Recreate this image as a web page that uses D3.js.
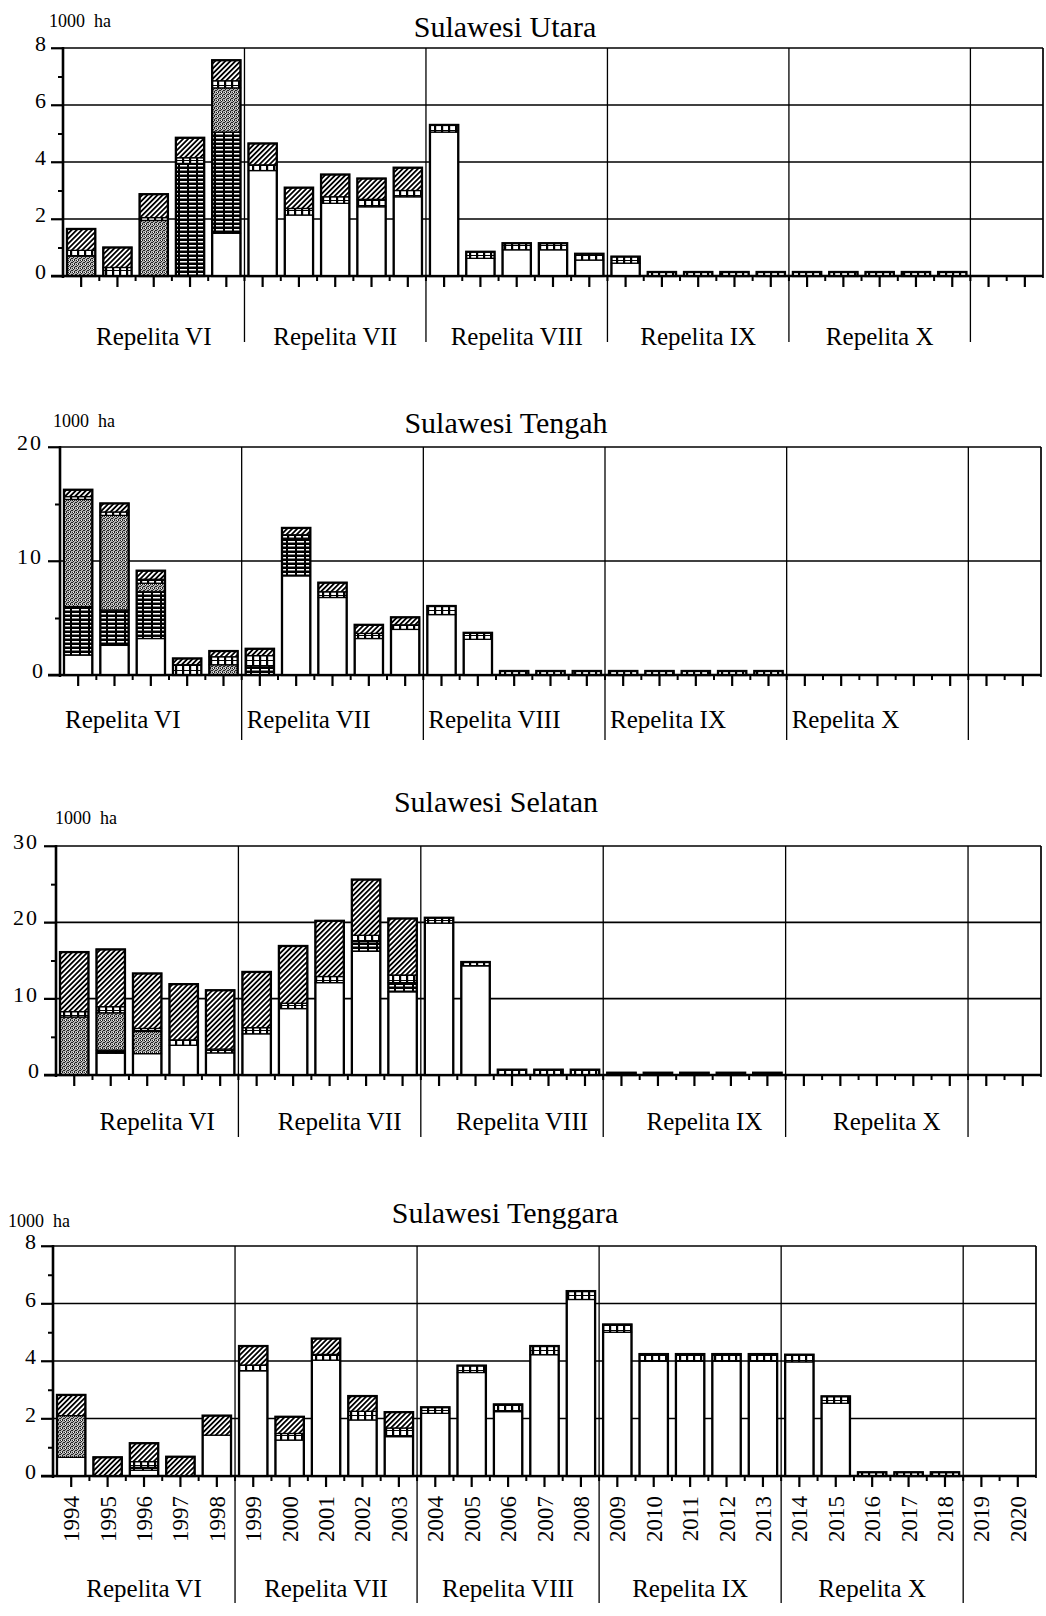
<!DOCTYPE html>
<html lang="en">
<head>
<meta charset="utf-8">
<script src="https://d3js.org/d3.v7.min.js"></script>
<style>
body { margin: 0; background: #fff; }
text { font-family: "Liberation Serif", "Times New Roman", serif; fill: #000; }
</style>
</head>
<body>
<script>
var years = ["1994","1995","1996","1997","1998","1999","2000","2001","2002","2003",
             "2004","2005","2006","2007","2008","2009","2010","2011","2012","2013",
             "2014","2015","2016","2017","2018","2019","2020"];
var repelita = ["Repelita VI", "Repelita VII", "Repelita VIII", "Repelita IX", "Repelita X"];
var keys = ["plain", "lined", "stipple", "dotted", "hatched"];

// Sulawesi Utara (1000 ha)
var utaraPlain   = [0,0,0,0,1.5, 3.7,2.14,2.55,2.43,2.78, 5.05,0.62,0.92,0.92,0.56, 0.45,0,0,0,0, 0,0,0,0,0, 0,0];
var utaraLined   = [0,0,0,3.95,3.55, 0,0,0,0,0, 0,0,0,0,0, 0,0,0,0,0, 0,0,0,0,0, 0,0];
var utaraStipple = [0.7,0,1.95,0,1.55, 0,0,0,0,0, 0,0,0,0,0, 0,0,0,0,0, 0,0,0,0,0, 0,0];
var utaraDotted  = [0.2,0.3,0.1,0.2,0.25, 0.2,0.23,0.23,0.26,0.22, 0.25,0.23,0.23,0.23,0.22, 0.23,0.14,0.14,0.14,0.14, 0.14,0.14,0.14,0.14,0.14, 0,0];
var utaraHatched = [0.75,0.7,0.82,0.7,0.72, 0.75,0.73,0.78,0.73,0.8, 0,0,0,0,0, 0,0,0,0,0, 0,0,0,0,0, 0,0];

// Sulawesi Tengah
var tengahPlain   = [1.75,2.6,3.2,0,0, 0,8.7,6.8,3.2,4.0, 5.3,3.13,0,0,0, 0,0,0,0,0, 0,0,0,0,0, 0,0];
var tengahLined   = [4.25,3.1,4.1,0,0, 0.8,3.3,0,0,0, 0,0,0,0,0, 0,0,0,0,0, 0,0,0,0,0, 0,0];
var tengahStipple = [9.4,8.3,0.75,0,0.9, 0,0,0,0,0, 0,0,0,0,0, 0,0,0,0,0, 0,0,0,0,0, 0,0];
var tengahDotted  = [0.25,0.3,0.35,0.9,0.7, 0.9,0.3,0.5,0.45,0.4, 0.75,0.57,0.35,0.35,0.35, 0.35,0.35,0.35,0.35,0.35, 0,0,0,0,0, 0,0];
var tengahHatched = [0.6,0.75,0.75,0.55,0.5, 0.6,0.6,0.8,0.75,0.66, 0,0,0,0,0, 0,0,0,0,0, 0,0,0,0,0, 0,0];

// Sulawesi Selatan
var selatanPlain   = [0,2.85,2.8,3.9,2.9, 5.4,8.7,12.1,16.2,10.9, 19.9,14.3,0,0,0, 0,0,0,0,0, 0,0,0,0,0, 0,0];
var selatanLined   = [0,0.4,0,0,0, 0,0,0,1.3,1.2, 0,0,0,0,0, 0,0,0,0,0, 0,0,0,0,0, 0,0];
var selatanStipple = [7.6,4.9,2.9,0,0, 0,0,0,0,0, 0,0,0,0,0, 0,0,0,0,0, 0,0,0,0,0, 0,0];
var selatanDotted  = [0.7,0.8,0.4,0.7,0.5, 0.8,0.7,0.8,0.8,1.0, 0.7,0.5,0.7,0.7,0.7, 0.3,0.3,0.3,0.3,0.3, 0,0,0,0,0, 0,0];
var selatanHatched = [7.8,7.5,7.2,7.3,7.7, 7.3,7.5,7.3,7.3,7.4, 0,0,0,0,0, 0,0,0,0,0, 0,0,0,0,0, 0,0];

// Sulawesi Tenggara
var tenggaraPlain   = [0.65,0,0.2,0,1.42, 3.66,1.25,4.03,1.95,1.37, 2.18,3.6,2.24,4.22,6.14, 5.0,3.99,3.99,3.99,3.99, 3.97,2.53,0,0,0, 0,0];
var tenggaraLined   = [0,0,0.1,0,0, 0,0,0,0,0, 0,0,0,0,0, 0,0,0,0,0, 0,0,0,0,0, 0,0];
var tenggaraStipple = [1.45,0,0,0,0, 0,0,0,0,0, 0,0,0,0,0, 0,0,0,0,0, 0,0,0,0,0, 0,0];
var tenggaraDotted  = [0,0,0.2,0,0, 0.2,0.23,0.2,0.3,0.3, 0.21,0.24,0.25,0.3,0.29, 0.27,0.25,0.25,0.25,0.25, 0.25,0.24,0.13,0.13,0.13, 0,0];
var tenggaraHatched = [0.72,0.65,0.64,0.67,0.68, 0.66,0.58,0.55,0.53,0.55, 0,0,0,0,0, 0,0,0,0,0, 0,0,0,0,0, 0,0];

var panels = [
  {title: "Sulawesi Utara", series: [utaraPlain, utaraLined, utaraStipple, utaraDotted, utaraHatched],
   max: 8, major: 2, minor: 1, left: 63, right: 1043, top: 48, bottom: 276,
   titleX: 505, titleY: 37, unitX: 49, unitY: 27, labelY: 345, lineEnd: 342, align: "middle", shift: 0, yearLabels: false},
  {title: "Sulawesi Tengah", series: [tengahPlain, tengahLined, tengahStipple, tengahDotted, tengahHatched],
   max: 20, major: 10, minor: 5, left: 60, right: 1041, top: 447, bottom: 675,
   titleX: 506, titleY: 433, unitX: 53, unitY: 427, labelY: 728, lineEnd: 740, align: "start", shift: 5, yearLabels: false},
  {title: "Sulawesi Selatan", series: [selatanPlain, selatanLined, selatanStipple, selatanDotted, selatanHatched],
   max: 30, major: 10, minor: 5, left: 56, right: 1041, top: 846, bottom: 1075,
   titleX: 496, titleY: 812, unitX: 55, unitY: 824, labelY: 1130, lineEnd: 1137, align: "middle", shift: 10, yearLabels: false},
  {title: "Sulawesi Tenggara", series: [tenggaraPlain, tenggaraLined, tenggaraStipple, tenggaraDotted, tenggaraHatched],
   max: 8, major: 2, minor: 1, left: 53, right: 1036, top: 1246, bottom: 1476,
   titleX: 505, titleY: 1223, unitX: 8, unitY: 1227, labelY: 1597, lineEnd: 1603, align: "middle", shift: 0, yearLabels: true}
];

var svg = d3.select("body").append("svg")
    .attr("width", 1046)
    .attr("height", 1616);

svg.append("rect").attr("width", 1046).attr("height", 1616).attr("fill", "#fff");

// fill patterns for the five land categories
var defs = svg.append("defs");

defs.append("pattern").attr("id", "pat-plain")
    .attr("patternUnits", "userSpaceOnUse").attr("width", 4).attr("height", 4)
  .append("rect").attr("width", 4).attr("height", 4).attr("fill", "#fff");

var lined = defs.append("pattern").attr("id", "pat-lined")
    .attr("patternUnits", "userSpaceOnUse").attr("width", 9).attr("height", 4);
lined.append("rect").attr("width", 9).attr("height", 4).attr("fill", "#000");
lined.append("rect").attr("x", 0).attr("y", 1).attr("width", 7).attr("height", 1.5).attr("fill", "#fff");

var stip = defs.append("pattern").attr("id", "pat-stipple")
    .attr("patternUnits", "userSpaceOnUse").attr("width", 4).attr("height", 4);
stip.append("rect").attr("width", 4).attr("height", 4).attr("fill", "#b4b4b4");
[[0,0],[2,0],[1,1],[3,1],[0,2],[3,2],[2,3],[1,3]].forEach(function(p, i) {
  if (i % 4 !== 3) stip.append("rect").attr("x", p[0]).attr("y", p[1]).attr("width", 1).attr("height", 1).attr("fill", "#222");
});
stip.append("rect").attr("x", 1).attr("y", 0).attr("width", 1).attr("height", 1).attr("fill", "#fff");

var dots = defs.append("pattern").attr("id", "pat-dotted")
    .attr("patternUnits", "userSpaceOnUse").attr("width", 7).attr("height", 5);
dots.append("rect").attr("width", 7).attr("height", 5).attr("fill", "#fff");
dots.append("rect").attr("x", 0).attr("y", 0).attr("width", 2.2).attr("height", 5).attr("fill", "#000");
dots.append("rect").attr("x", 0).attr("y", 0).attr("width", 7).attr("height", 1).attr("fill", "#000");

var hatch = defs.append("pattern").attr("id", "pat-hatched")
    .attr("patternUnits", "userSpaceOnUse").attr("width", 3.6).attr("height", 10)
    .attr("patternTransform", "rotate(45)");
hatch.append("rect").attr("width", 3.6).attr("height", 10).attr("fill", "#fff");
hatch.append("line").attr("x1", 0.9).attr("x2", 0.9).attr("y1", 0).attr("y2", 10)
    .attr("stroke", "#000").attr("stroke-width", 1.8);

panels.forEach(drawPanel);

function drawPanel(p) {
  var rows = years.map(function(yr, i) {
    var r = {year: yr};
    keys.forEach(function(k, j) { r[k] = p.series[j][i]; });
    return r;
  });

  var x = d3.scaleBand().domain(years).range([p.left, p.right])
      .paddingInner(0.22).paddingOuter(0.11);
  var y = d3.scaleLinear().domain([0, p.max]).range([p.bottom, p.top]);
  var half = (x.step() - x.bandwidth()) / 2;

  var g = svg.append("g");

  // horizontal grid
  var majors = d3.range(0, p.max + 0.001, p.major);
  g.selectAll(".grid").data(majors).join("line")
      .attr("x1", p.left - 12).attr("x2", p.right)
      .attr("y1", function(d) { return y(d); }).attr("y2", function(d) { return y(d); })
      .attr("stroke", "#000").attr("stroke-width", function(d) { return d === 0 ? 2.4 : 1.7; });

  // Repelita boundaries
  var starts = ["1999", "2004", "2009", "2014", "2019"];
  g.selectAll(".bound").data(starts).join("line")
      .attr("x1", function(d) { return x(d) - half; }).attr("x2", function(d) { return x(d) - half; })
      .attr("y1", p.top).attr("y2", p.lineEnd)
      .attr("stroke", "#000").attr("stroke-width", 1.3);

  // stacked bars
  var stacked = d3.stack().keys(keys)(rows);
  stacked.forEach(function(layer) {
    g.append("g").selectAll("rect")
      .data(layer.filter(function(d) { return d[1] - d[0] > 0; }))
      .join("rect")
        .attr("x", function(d) { return x(d.data.year); })
        .attr("width", x.bandwidth())
        .attr("y", function(d) { return y(d[1]); })
        .attr("height", function(d) { return y(d[0]) - y(d[1]); })
        .attr("fill", "url(#pat-" + layer.key + ")")
        .attr("stroke", "#000").attr("stroke-width", 1.3);
  });
  var top = stacked[stacked.length - 1];
  g.append("g").selectAll("rect")
    .data(top.filter(function(d) { return d[1] > 0; }))
    .join("rect")
      .attr("x", function(d) { return x(d.data.year); })
      .attr("width", x.bandwidth())
      .attr("y", function(d) { return y(d[1]); })
      .attr("height", function(d) { return y(0) - y(d[1]); })
      .attr("fill", "none").attr("stroke", "#000").attr("stroke-width", 2.3);

  // frame
  g.append("line").attr("x1", p.left).attr("x2", p.left).attr("y1", p.top - 1).attr("y2", p.bottom + 2)
      .attr("stroke", "#000").attr("stroke-width", 2.6);
  g.append("line").attr("x1", p.right).attr("x2", p.right).attr("y1", p.top).attr("y2", p.bottom + 2)
      .attr("stroke", "#000").attr("stroke-width", 1.7);

  // y axis labels and ticks
  var yAxis = g.append("g").attr("transform", "translate(" + p.left + ",0)")
      .call(d3.axisLeft(y).tickValues(majors).tickSize(12).tickPadding(5).tickFormat(d3.format("d")));
  yAxis.select(".domain").remove();
  yAxis.selectAll("line").attr("stroke-width", 1.7);
  yAxis.selectAll("text")
      .attr("font-family", "Liberation Serif, Times New Roman, serif")
      .attr("font-size", 22).attr("dy", "0.12em")
      .attr("letter-spacing", function(d) { return d >= 10 ? 2 : 0; });

  var minors = d3.range(p.minor, p.max, p.major);
  var yMinor = g.append("g").attr("transform", "translate(" + p.left + ",0)")
      .call(d3.axisLeft(y).tickValues(minors).tickSize(5).tickFormat(""));
  yMinor.select(".domain").remove();
  yMinor.selectAll("line").attr("stroke-width", 2);

  // x ticks: long at year centres, short at band edges
  var xAxis = g.append("g").attr("transform", "translate(0," + p.bottom + ")")
      .call(d3.axisBottom(x).tickSize(11).tickFormat(""));
  xAxis.select(".domain").remove();
  xAxis.selectAll("line").attr("stroke-width", 2.2);
  g.selectAll(".edge").data(years.slice(1)).join("line")
      .attr("x1", function(d) { return x(d) - half; }).attr("x2", function(d) { return x(d) - half; })
      .attr("y1", p.bottom).attr("y2", p.bottom + 5)
      .attr("stroke", "#000").attr("stroke-width", 2);

  if (p.yearLabels) {
    g.selectAll(".year").data(years).join("text")
        .attr("transform", function(d) {
          return "translate(" + (x(d) + x.bandwidth() / 2 + 8) + "," + (p.bottom + 20) + ") rotate(-90)";
        })
        .attr("text-anchor", "end")
        .attr("font-size", 23)
        .text(function(d) { return d; });
  }

  // Repelita labels
  repelita.forEach(function(name, i) {
    var a = x(years[i * 5]) - half;
    var b = x(years[i * 5 + 4]) + x.bandwidth() + half;
    g.append("text")
        .attr("x", p.align === "start" ? a + p.shift : (a + b) / 2 + p.shift)
        .attr("y", p.labelY)
        .attr("text-anchor", p.align)
        .attr("font-size", 25)
        .text(name);
  });

  // title and unit
  g.append("text").attr("x", p.titleX).attr("y", p.titleY)
      .attr("text-anchor", "middle").attr("font-size", 30).text(p.title);
  g.append("text").attr("x", p.unitX).attr("y", p.unitY)
      .attr("font-size", 18).style("white-space", "pre").text("1000  ha");
}
</script>
</body>
</html>
